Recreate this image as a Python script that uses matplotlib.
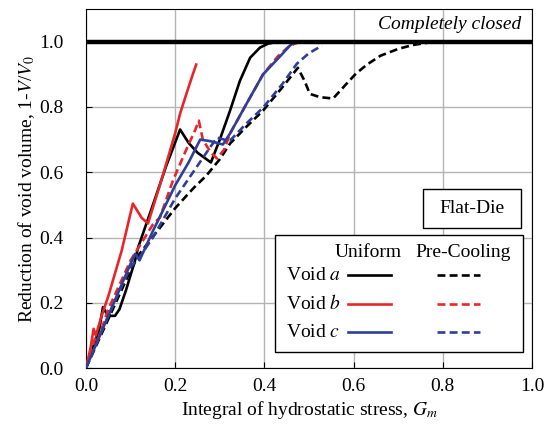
import matplotlib.pyplot as plt
from matplotlib.patches import Rectangle
import numpy as np

plt.rcParams['font.family'] = ['Liberation Serif', 'DejaVu Serif']
plt.rcParams['mathtext.fontset'] = 'stix'

# Void a
a_uni_x = [0, 0.02, 0.03, 0.038, 0.045, 0.055, 0.065, 0.075, 0.09, 0.11, 0.117, 0.15, 0.18, 0.211,
           0.23, 0.25, 0.28, 0.30, 0.323, 0.345, 0.368, 0.39, 0.408, 0.43]
a_uni_y = [0, 0.08, 0.12, 0.187, 0.17, 0.16, 0.16, 0.18, 0.24, 0.33, 0.37, 0.50, 0.62, 0.731,
           0.69, 0.66, 0.63, 0.70, 0.789, 0.88, 0.951, 0.982, 0.994, 1.0]
a_pre_x = [0, 0.05, 0.10, 0.12, 0.16, 0.20, 0.24, 0.27, 0.30, 0.323, 0.36, 0.397, 0.44, 0.475,
           0.49, 0.502, 0.525, 0.554, 0.58, 0.605, 0.63, 0.66, 0.70, 0.733, 0.78]
a_pre_y = [0, 0.15, 0.30, 0.35, 0.42, 0.49, 0.55, 0.59, 0.64, 0.688, 0.74, 0.789, 0.86, 0.92,
           0.88, 0.84, 0.83, 0.826, 0.865, 0.902, 0.93, 0.957, 0.978, 0.99, 1.0]

# Void b
b_uni_x = [0, 0.01, 0.017, 0.022, 0.035, 0.05, 0.08, 0.105, 0.125, 0.139, 0.17, 0.20, 0.211,
           0.225, 0.237, 0.247]
b_uni_y = [0, 0.06, 0.12, 0.10, 0.16, 0.22, 0.36, 0.504, 0.46, 0.443, 0.58, 0.72, 0.78,
           0.84, 0.89, 0.93]
b_pre_x = [0, 0.02, 0.025, 0.05, 0.10, 0.15, 0.166, 0.195, 0.225, 0.245, 0.253, 0.262, 0.28,
           0.294, 0.31, 0.323, 0.36, 0.397, 0.43, 0.457, 0.48]
b_pre_y = [0, 0.09, 0.08, 0.18, 0.33, 0.44, 0.462, 0.575, 0.67, 0.73, 0.758, 0.70, 0.66,
           0.642, 0.67, 0.719, 0.81, 0.90, 0.955, 0.988, 1.0]

# Void c
c_uni_x = [0, 0.05, 0.10, 0.11, 0.12, 0.15, 0.20, 0.23, 0.256, 0.28, 0.307, 0.323, 0.36,
           0.397, 0.435, 0.457, 0.47]
c_uni_y = [0, 0.16, 0.32, 0.35, 0.33, 0.42, 0.56, 0.63, 0.70, 0.695, 0.685, 0.719, 0.81,
           0.90, 0.955, 0.988, 1.0]
c_pre_x = [0, 0.05, 0.10, 0.12, 0.15, 0.20, 0.25, 0.28, 0.294, 0.31, 0.323, 0.36, 0.397,
           0.44, 0.473, 0.50, 0.529]
c_pre_y = [0, 0.16, 0.31, 0.34, 0.40, 0.52, 0.62, 0.68, 0.706, 0.70, 0.697, 0.75, 0.798,
           0.87, 0.933, 0.965, 0.988]

colors = {'a': 'black', 'b': '#e8262a', 'c': '#2f3f98'}
series = [
    (a_uni_x, a_uni_y, 'a', '-'), (a_pre_x, a_pre_y, 'a', '--'),
    (b_uni_x, b_uni_y, 'b', '-'), (b_pre_x, b_pre_y, 'b', '--'),
    (c_uni_x, c_uni_y, 'c', '-'), (c_pre_x, c_pre_y, 'c', '--'),
]
DASH = (3, 1.6)
FS = 14

fig = plt.figure(figsize=(5.52, 4.33), dpi=100)
ax = fig.add_axes([0.1558, 0.150, 0.808, 0.829])

for x, y, k, ls in series:
    if ls == '-':
        ax.plot(x, y, color=colors[k], lw=1.9, zorder=3)
    else:
        ax.plot(x, y, color=colors[k], lw=1.9, dashes=DASH, zorder=3)

ax.axhline(1.0, color='black', lw=3.2, zorder=4)
ax.text(0.975, 1.052, 'Completely closed', style='italic', fontsize=FS,
        ha='right', va='center')

ticks = np.arange(0, 1.01, 0.2)
ax.set_xlim(0, 1.0)
ax.set_ylim(0, 1.1)
ax.set_xticks(ticks)
ax.set_yticks(ticks)
ax.set_xticklabels(['%.1f' % v for v in ticks])
ax.set_yticklabels(['%.1f' % v for v in ticks])
ax.tick_params(direction='in', labelsize=FS, length=4)
ax.tick_params(axis='x', pad=7)
ax.tick_params(axis='y', pad=16)
ax.grid(True, color='#b4b4b4', lw=1.0, zorder=0)
ax.set_axisbelow(True)

ax.set_xlabel('Integral of hydrostatic stress, $G_m$', fontsize=FS, labelpad=3)
ax.set_ylabel('Reduction of void volume, 1-$V$/$V_0$', fontsize=FS, labelpad=2)

# Flat-Die box
ax.add_patch(Rectangle((0.756, 0.390), 0.219, 0.109, transform=ax.transAxes,
                       fc='white', ec='black', lw=1.0, zorder=5))
ax.text(0.8655, 0.4445, 'Flat-Die', transform=ax.transAxes, fontsize=FS,
        ha='center', va='center', zorder=6)

# Custom legend
ax.add_patch(Rectangle((0.424, 0.045), 0.556, 0.325, transform=ax.transAxes,
                       fc='white', ec='black', lw=1.0, zorder=5))
ax.text(0.632, 0.323, 'Uniform', transform=ax.transAxes, fontsize=FS,
        ha='center', va='center', zorder=6)
ax.text(0.845, 0.323, 'Pre-Cooling', transform=ax.transAxes, fontsize=FS,
        ha='center', va='center', zorder=6)
for i, k in enumerate(['a', 'b', 'c']):
    yy = 0.259 - i * 0.0795
    ax.text(0.448, yy, 'Void $\\mathit{%s}$' % k, transform=ax.transAxes, fontsize=FS,
            ha='left', va='center', zorder=6)
    ax.plot([0.587, 0.684], [yy, yy], transform=ax.transAxes, color=colors[k],
            lw=1.9, zorder=6)
    ax.plot([0.787, 0.883], [yy, yy], transform=ax.transAxes, color=colors[k],
            lw=1.9, dashes=DASH, zorder=6)

fig.savefig('out.png', dpi=100)
